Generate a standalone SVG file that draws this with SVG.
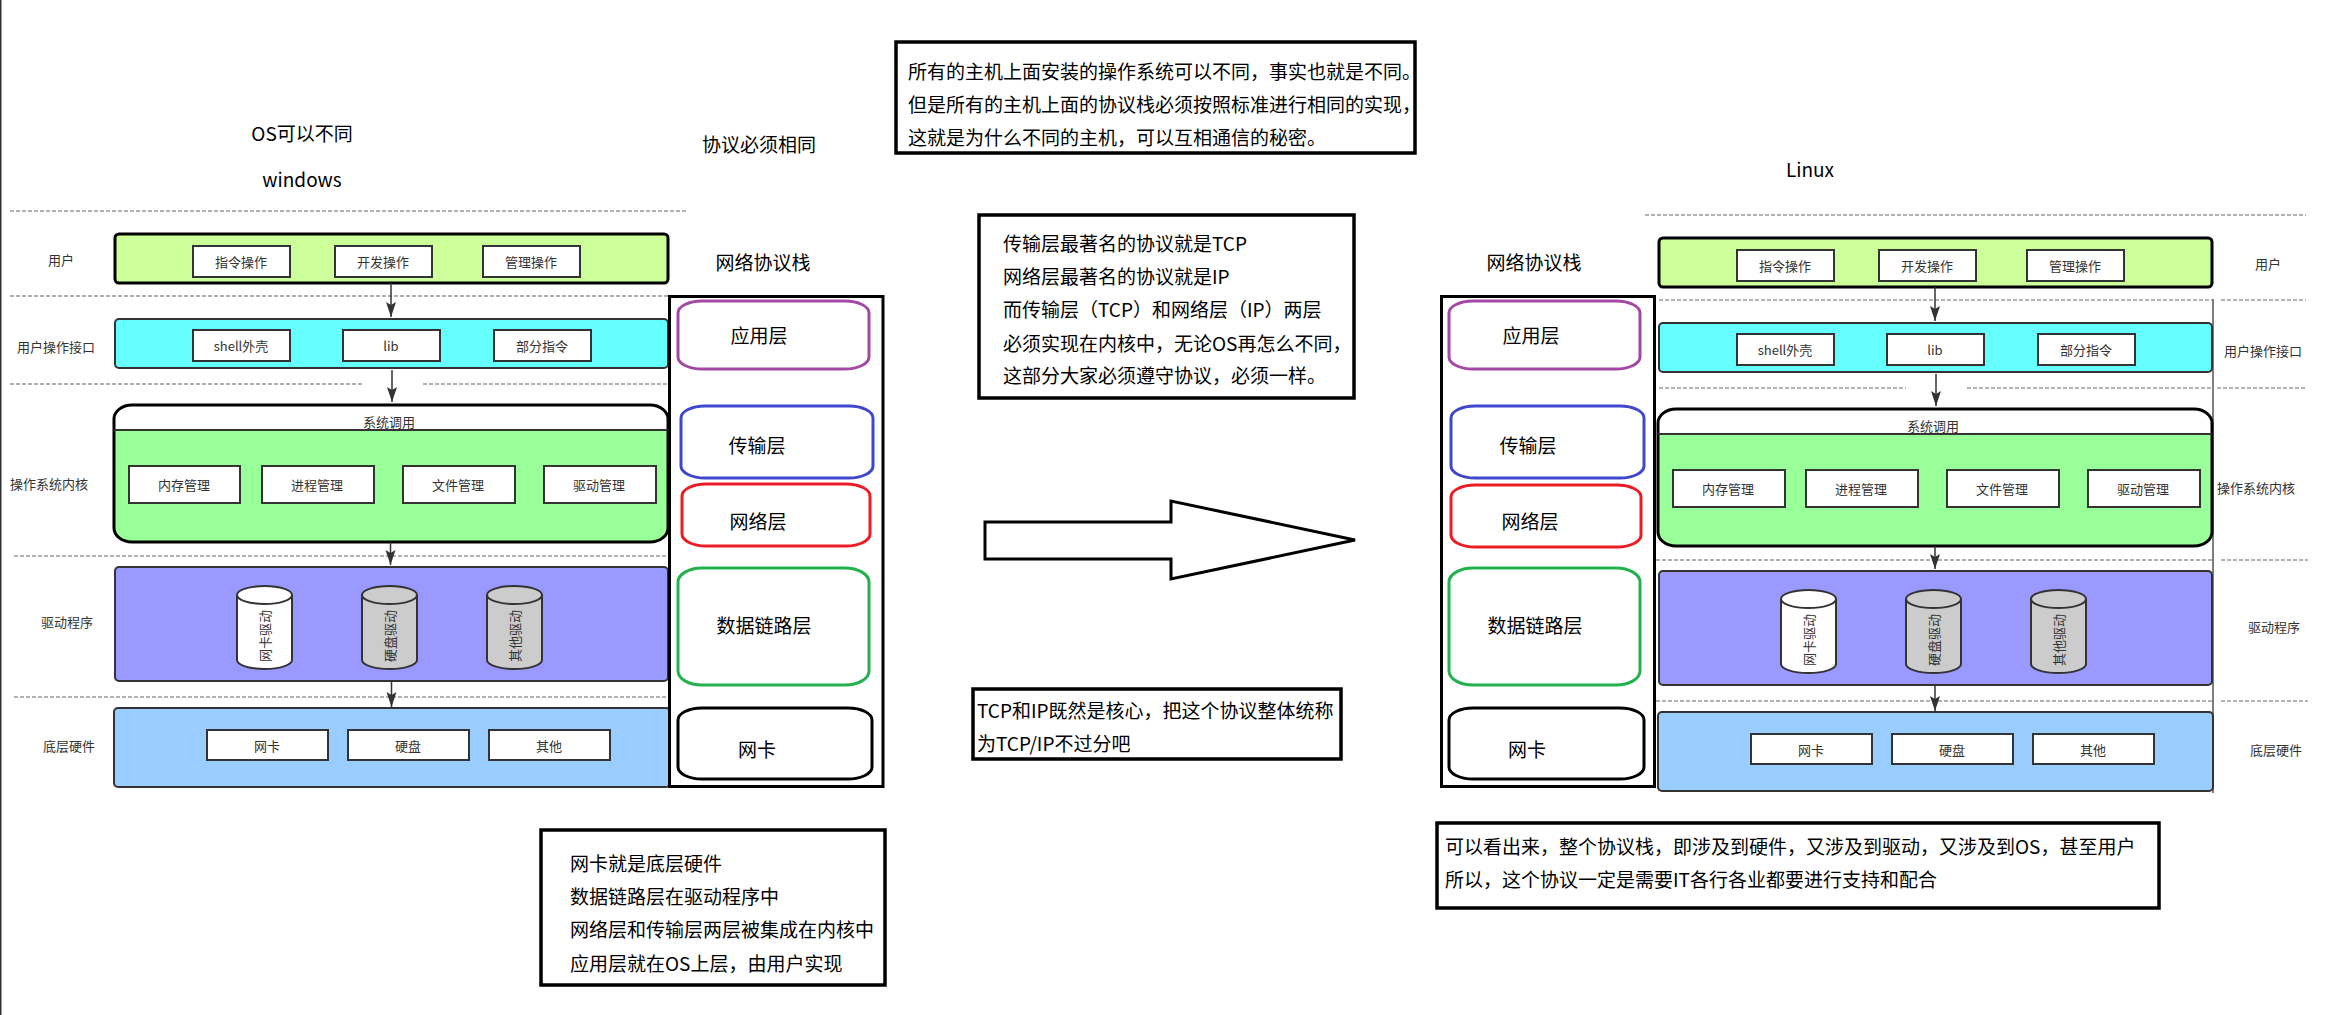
<svg xmlns="http://www.w3.org/2000/svg" width="2333" height="1015" viewBox="0 0 2333 1015">
<defs>
<style>
text{font-family:"Noto Sans CJK SC","Noto Sans",sans-serif;fill:#000;font-size:19px;dominant-baseline:central}
.m{text-anchor:middle}
.s{font-size:13px;fill:#333;text-anchor:middle}
.sub{fill:#fff;stroke:#333;stroke-width:2}
.band{stroke:#333;stroke-width:2}
.bk{stroke:#000;stroke-width:3}
.layer{fill:#fff;stroke-width:3}
.frame{fill:#fff;stroke:#000;stroke-width:3.5}
.frame2{fill:none;stroke:#000;stroke-width:3}
.dash{stroke:#999;stroke-width:1.5;stroke-dasharray:4 2;fill:none}
.conn{stroke:#333;stroke-width:1.5;fill:none;marker-end:url(#ah)}
.cy{stroke:#333;stroke-width:2}
</style>
<marker id="ah" markerUnits="userSpaceOnUse" markerWidth="16" markerHeight="12" refX="15" refY="5" orient="auto"><path d="M0 0L15 5L0 10L3 5Z" fill="#333"/></marker>
</defs>
<rect width="2333" height="1015" fill="#fff"/>
<line x1="0.750" y1="0" x2="0.750" y2="1015" stroke="#333" stroke-width="1.5"/>

<g id="guides">
<path class="dash" d="M10 211H687M10 296H668M10 384H362M423 384H667M14 556H668M14 697H668"/>
<path class="dash" d="M1645 215H2306M1659 300H2212M2221 300H2306M1659 388H1906M1967 388H2212M2217 388H2306M1656 560H2212M2221 560H2308M1656 701H2212M2221 701H2308"/>
<line x1="2213" y1="299" x2="2213" y2="793" stroke="#000" stroke-width="1"/>
</g>

<g id="titles">
<text class="m" x="302" y="132">OS可以不同</text>
<text class="m" x="302" y="178">windows</text>
<text class="m" x="759" y="143">协议必须相同</text>
<text class="m" x="763" y="261">网络协议栈</text>
<text class="m" x="1810" y="168">Linux</text>
<text class="m" x="1534" y="261">网络协议栈</text>
</g>

<g id="left-user">
<rect class="bk" x="115" y="234" width="553" height="49" rx="4" fill="#CCFF99"/>
<rect class="sub" x="193" y="246" width="97" height="31"/><text class="s" x="241" y="261">指令操作</text>
<rect class="sub" x="335" y="246" width="97" height="31"/><text class="s" x="383" y="261">开发操作</text>
<rect class="sub" x="483" y="246" width="97" height="31"/><text class="s" x="531" y="261">管理操作</text>
<text class="s" x="61" y="259">用户</text>
</g>
<g id="left-interface">
<rect class="band" x="115" y="319" width="553" height="49" rx="4" fill="#66FFFF"/>
<rect class="sub" x="193" y="330" width="97" height="31"/><text class="s" x="241" y="345">shell外壳</text>
<rect class="sub" x="343" y="330" width="97" height="31"/><text class="s" x="391" y="345">lib</text>
<rect class="sub" x="494" y="330" width="97" height="31"/><text class="s" x="542" y="345">部分指令</text>
<text class="s" x="56" y="346">用户操作接口</text>
</g>
<g id="left-kernel">
<path d="M114 430H668V528Q668 542 650 542H132Q114 542 114 528Z" fill="#99FF99"/>
<rect x="114" y="405" width="554" height="137" rx="18" ry="14" fill="none" class="bk"/>
<line x1="114" y1="430" x2="668" y2="430" stroke="#333" stroke-width="2"/>
<text class="s" x="389" y="421">系统调用</text>
<rect class="sub" x="129" y="466" width="111" height="37"/><text class="s" x="184" y="484">内存管理</text>
<rect class="sub" x="262" y="466" width="112" height="37"/><text class="s" x="317" y="484">进程管理</text>
<rect class="sub" x="403" y="466" width="112" height="37"/><text class="s" x="458" y="484">文件管理</text>
<rect class="sub" x="544" y="466" width="112" height="37"/><text class="s" x="599" y="484">驱动管理</text>
<text class="s" x="49" y="483">操作系统内核</text>
</g>
<g id="left-driver">
<rect class="band" x="115" y="567" width="553" height="114" rx="4" fill="#9999FF"/>
<path class="cy" fill="#fff" d="M237 595A27.5 9 0 0 1 292 595V660A27.5 9 0 0 1 237 660Z"/><path class="cy" fill="none" d="M237 595A27.5 9 0 0 0 292 595"/>
<text class="s" transform="translate(264 636) rotate(-90)">网卡驱动</text>
<path class="cy" fill="#ccc" d="M362 595A27.5 9 0 0 1 417 595V660A27.5 9 0 0 1 362 660Z"/><path class="cy" fill="none" d="M362 595A27.5 9 0 0 0 417 595"/>
<text class="s" transform="translate(389 636) rotate(-90)">硬盘驱动</text>
<path class="cy" fill="#ccc" d="M487 595A27.5 9 0 0 1 542 595V660A27.5 9 0 0 1 487 660Z"/><path class="cy" fill="none" d="M487 595A27.5 9 0 0 0 542 595"/>
<text class="s" transform="translate(514 636) rotate(-90)">其他驱动</text>
<text class="s" x="67" y="621">驱动程序</text>
</g>
<g id="left-hardware">
<rect class="band" x="114" y="708" width="556" height="79" rx="4" fill="#99CCFF"/>
<rect class="sub" x="207" y="730" width="121" height="30"/><text class="s" x="267" y="745">网卡</text>
<rect class="sub" x="348" y="730" width="121" height="30"/><text class="s" x="408" y="745">硬盘</text>
<rect class="sub" x="489" y="730" width="121" height="30"/><text class="s" x="549" y="745">其他</text>
<text class="s" x="69" y="745">底层硬件</text>
</g>

<g id="left-stack">
<rect x="669.500" y="296.500" width="213.500" height="490" class="frame2"/>
<rect class="layer" stroke="#A349A4" x="678" y="301" width="191" height="68" rx="24" ry="12"/><text class="m" x="759" y="334">应用层</text>
<rect class="layer" stroke="#3F48CC" x="681" y="406" width="192" height="72" rx="24" ry="12"/><text class="m" x="757" y="444">传输层</text>
<rect class="layer" stroke="#ED1C24" x="682" y="484" width="188" height="62" rx="24" ry="12"/><text class="m" x="758" y="520">网络层</text>
<rect class="layer" stroke="#22B14C" x="678" y="568" width="191" height="117" rx="24" ry="14"/><text class="m" x="764" y="624">数据链路层</text>
<rect class="layer" stroke="#000" x="678" y="708" width="194" height="71" rx="24" ry="12"/><text class="m" x="757" y="748">网卡</text>
</g>

<g id="right-user">
<rect class="bk" x="1659" y="238" width="553" height="49" rx="4" fill="#CCFF99"/>
<rect class="sub" x="1737" y="250" width="97" height="31"/><text class="s" x="1785" y="265">指令操作</text>
<rect class="sub" x="1879" y="250" width="97" height="31"/><text class="s" x="1927" y="265">开发操作</text>
<rect class="sub" x="2027" y="250" width="97" height="31"/><text class="s" x="2075" y="265">管理操作</text>
<text class="s" x="2268" y="263">用户</text>
</g>
<g id="right-interface">
<rect class="band" x="1659" y="323" width="553" height="49" rx="4" fill="#66FFFF"/>
<rect class="sub" x="1737" y="334" width="97" height="31"/><text class="s" x="1785" y="349">shell外壳</text>
<rect class="sub" x="1887" y="334" width="97" height="31"/><text class="s" x="1935" y="349">lib</text>
<rect class="sub" x="2038" y="334" width="97" height="31"/><text class="s" x="2086" y="349">部分指令</text>
<text class="s" x="2263" y="350">用户操作接口</text>
</g>
<g id="right-kernel">
<path d="M1658 434H2212V532Q2212 546 2194 546H1676Q1658 546 1658 532Z" fill="#99FF99"/>
<rect x="1658" y="409" width="554" height="137" rx="18" ry="14" fill="none" class="bk"/>
<line x1="1658" y1="434" x2="2212" y2="434" stroke="#333" stroke-width="2"/>
<text class="s" x="1933" y="425">系统调用</text>
<rect class="sub" x="1673" y="470" width="112" height="37"/><text class="s" x="1728" y="488">内存管理</text>
<rect class="sub" x="1806" y="470" width="112" height="37"/><text class="s" x="1861" y="488">进程管理</text>
<rect class="sub" x="1947" y="470" width="112" height="37"/><text class="s" x="2002" y="488">文件管理</text>
<rect class="sub" x="2088" y="470" width="112" height="37"/><text class="s" x="2143" y="488">驱动管理</text>
<text class="s" x="2256" y="487">操作系统内核</text>
</g>
<g id="right-driver">
<rect class="band" x="1659" y="571" width="553" height="114" rx="4" fill="#9999FF"/>
<path class="cy" fill="#fff" d="M1781 599A27.5 9 0 0 1 1836 599V664A27.5 9 0 0 1 1781 664Z"/><path class="cy" fill="none" d="M1781 599A27.5 9 0 0 0 1836 599"/>
<text class="s" transform="translate(1808 640) rotate(-90)">网卡驱动</text>
<path class="cy" fill="#ccc" d="M1906 599A27.5 9 0 0 1 1961 599V664A27.5 9 0 0 1 1906 664Z"/><path class="cy" fill="none" d="M1906 599A27.5 9 0 0 0 1961 599"/>
<text class="s" transform="translate(1933 640) rotate(-90)">硬盘驱动</text>
<path class="cy" fill="#ccc" d="M2031 599A27.5 9 0 0 1 2086 599V664A27.5 9 0 0 1 2031 664Z"/><path class="cy" fill="none" d="M2031 599A27.5 9 0 0 0 2086 599"/>
<text class="s" transform="translate(2058 640) rotate(-90)">其他驱动</text>
<text class="s" x="2274" y="626">驱动程序</text>
</g>
<g id="right-hardware">
<rect class="band" x="1658" y="712" width="555" height="79" rx="4" fill="#99CCFF"/>
<rect class="sub" x="1751" y="734" width="121" height="30"/><text class="s" x="1811" y="749">网卡</text>
<rect class="sub" x="1892" y="734" width="121" height="30"/><text class="s" x="1952" y="749">硬盘</text>
<rect class="sub" x="2033" y="734" width="121" height="30"/><text class="s" x="2093" y="749">其他</text>
<text class="s" x="2276" y="749">底层硬件</text>
</g>

<g id="right-stack">
<rect x="1441.500" y="296.500" width="213" height="490" class="frame2"/>
<rect class="layer" stroke="#A349A4" x="1449" y="301" width="191" height="68" rx="24" ry="12"/><text class="m" x="1531" y="334">应用层</text>
<rect class="layer" stroke="#3F48CC" x="1451" y="406" width="193" height="72" rx="24" ry="12"/><text class="m" x="1528" y="444">传输层</text>
<rect class="layer" stroke="#ED1C24" x="1451" y="485" width="190" height="62" rx="24" ry="12"/><text class="m" x="1530" y="520">网络层</text>
<rect class="layer" stroke="#22B14C" x="1449" y="568" width="191" height="117" rx="24" ry="14"/><text class="m" x="1535" y="624">数据链路层</text>
<rect class="layer" stroke="#000" x="1449" y="708" width="195" height="71" rx="24" ry="12"/><text class="m" x="1527" y="748">网卡</text>
</g>

<g id="connectors">
<line class="conn" x1="391" y1="283" x2="391" y2="317"/>
<line class="conn" x1="392" y1="370" x2="392" y2="402"/>
<line class="conn" x1="390.500" y1="542" x2="390.500" y2="565"/>
<line class="conn" x1="391.500" y1="682" x2="391.500" y2="707"/>
<line class="conn" x1="1935" y1="287" x2="1935" y2="321"/>
<line class="conn" x1="1936" y1="374" x2="1936" y2="406"/>
<line class="conn" x1="1935" y1="546" x2="1935" y2="569"/>
<line class="conn" x1="1935" y1="686" x2="1935" y2="711"/>
</g>

<g id="big-arrow">
<path d="M985 522H1171V501L1355 540L1171 579V559H985Z" fill="#fff" stroke="#000" stroke-width="3"/>
</g>

<g id="note-top">
<rect class="frame" x="896" y="42" width="519" height="111"/>
<text x="908" y="70">所有的主机上面安装的操作系统可以不同，事实也就是不同。</text>
<text x="908" y="103">但是所有的主机上面的协议栈必须按照标准进行相同的实现，</text>
<text x="908" y="136">这就是为什么不同的主机，可以互相通信的秘密。</text>
</g>
<g id="note-tcp">
<rect class="frame" x="979" y="215" width="375" height="183"/>
<text x="1003" y="242">传输层最著名的协议就是TCP</text>
<text x="1003" y="275">网络层最著名的协议就是IP</text>
<text x="1003" y="308">而传输层（TCP）和网络层（IP）两层</text>
<text x="1003" y="342">必须实现在内核中，无论OS再怎么不同，</text>
<text x="1003" y="374">这部分大家必须遵守协议，必须一样。</text>
</g>
<g id="note-name">
<rect class="frame" x="973" y="689" width="368" height="70"/>
<text x="977" y="709">TCP和IP既然是核心，把这个协议整体统称</text>
<text x="977" y="742">为TCP/IP不过分吧</text>
</g>
<g id="note-left">
<rect class="frame" x="541" y="830" width="344" height="155"/>
<text x="570" y="862">网卡就是底层硬件</text>
<text x="570" y="895">数据链路层在驱动程序中</text>
<text x="570" y="928">网络层和传输层两层被集成在内核中</text>
<text x="570" y="962">应用层就在OS上层，由用户实现</text>
</g>
<g id="note-right">
<rect class="frame" x="1437" y="823" width="722" height="85"/>
<text x="1445" y="845">可以看出来，整个协议栈，即涉及到硬件，又涉及到驱动，又涉及到OS，甚至用户</text>
<text x="1445" y="878">所以，这个协议一定是需要IT各行各业都要进行支持和配合</text>
</g>
</svg>
